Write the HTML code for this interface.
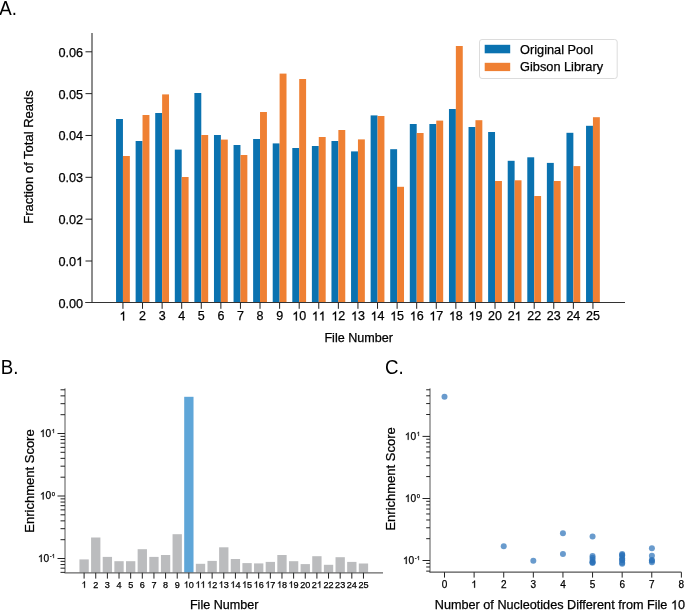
<!DOCTYPE html>
<html><head><meta charset="utf-8"><style>
html,body{margin:0;padding:0;background:#fff;width:685px;height:610px;overflow:hidden}
svg{display:block;will-change:transform;font-family:"Liberation Sans",sans-serif}
text,.o{stroke:#000;stroke-width:0.25px;vector-effect:non-scaling-stroke}
text.p{stroke:none}
</style></head><body>
<svg width="685" height="610" viewBox="0 0 685 610" font-family="Liberation Sans, sans-serif">
<rect width="685" height="610" fill="#fff"/>
<rect x="116.05" y="119" width="6.9" height="183.80" fill="#0a72b0"/>
<rect x="122.95" y="156" width="6.9" height="146.80" fill="#ef8033"/>
<rect x="135.63" y="141" width="6.9" height="161.80" fill="#0a72b0"/>
<rect x="142.53" y="115" width="6.9" height="187.80" fill="#ef8033"/>
<rect x="155.22" y="113" width="6.9" height="189.80" fill="#0a72b0"/>
<rect x="162.12" y="94.4" width="6.9" height="208.40" fill="#ef8033"/>
<rect x="174.80" y="149.6" width="6.9" height="153.20" fill="#0a72b0"/>
<rect x="181.70" y="177" width="6.9" height="125.80" fill="#ef8033"/>
<rect x="194.38" y="93" width="6.9" height="209.80" fill="#0a72b0"/>
<rect x="201.28" y="135" width="6.9" height="167.80" fill="#ef8033"/>
<rect x="213.97" y="135" width="6.9" height="167.80" fill="#0a72b0"/>
<rect x="220.87" y="139.6" width="6.9" height="163.20" fill="#ef8033"/>
<rect x="233.55" y="145" width="6.9" height="157.80" fill="#0a72b0"/>
<rect x="240.45" y="155" width="6.9" height="147.80" fill="#ef8033"/>
<rect x="253.13" y="139" width="6.9" height="163.80" fill="#0a72b0"/>
<rect x="260.03" y="112" width="6.9" height="190.80" fill="#ef8033"/>
<rect x="272.71" y="143.4" width="6.9" height="159.40" fill="#0a72b0"/>
<rect x="279.61" y="73.6" width="6.9" height="229.20" fill="#ef8033"/>
<rect x="292.30" y="148" width="6.9" height="154.80" fill="#0a72b0"/>
<rect x="299.20" y="79" width="6.9" height="223.80" fill="#ef8033"/>
<rect x="311.88" y="146" width="6.9" height="156.80" fill="#0a72b0"/>
<rect x="318.78" y="137" width="6.9" height="165.80" fill="#ef8033"/>
<rect x="331.46" y="141" width="6.9" height="161.80" fill="#0a72b0"/>
<rect x="338.36" y="130" width="6.9" height="172.80" fill="#ef8033"/>
<rect x="351.05" y="151.4" width="6.9" height="151.40" fill="#0a72b0"/>
<rect x="357.95" y="139.4" width="6.9" height="163.40" fill="#ef8033"/>
<rect x="370.63" y="115.4" width="6.9" height="187.40" fill="#0a72b0"/>
<rect x="377.53" y="116" width="6.9" height="186.80" fill="#ef8033"/>
<rect x="390.21" y="149.2" width="6.9" height="153.60" fill="#0a72b0"/>
<rect x="397.11" y="186.8" width="6.9" height="116.00" fill="#ef8033"/>
<rect x="409.80" y="124" width="6.9" height="178.80" fill="#0a72b0"/>
<rect x="416.69" y="133" width="6.9" height="169.80" fill="#ef8033"/>
<rect x="429.38" y="124" width="6.9" height="178.80" fill="#0a72b0"/>
<rect x="436.28" y="120.6" width="6.9" height="182.20" fill="#ef8033"/>
<rect x="448.96" y="109" width="6.9" height="193.80" fill="#0a72b0"/>
<rect x="455.86" y="46" width="6.9" height="256.80" fill="#ef8033"/>
<rect x="468.54" y="127" width="6.9" height="175.80" fill="#0a72b0"/>
<rect x="475.44" y="120.2" width="6.9" height="182.60" fill="#ef8033"/>
<rect x="488.13" y="132" width="6.9" height="170.80" fill="#0a72b0"/>
<rect x="495.03" y="181" width="6.9" height="121.80" fill="#ef8033"/>
<rect x="507.71" y="160.8" width="6.9" height="142.00" fill="#0a72b0"/>
<rect x="514.61" y="180.3" width="6.9" height="122.50" fill="#ef8033"/>
<rect x="527.29" y="157.3" width="6.9" height="145.50" fill="#0a72b0"/>
<rect x="534.19" y="196" width="6.9" height="106.80" fill="#ef8033"/>
<rect x="546.88" y="162.9" width="6.9" height="139.90" fill="#0a72b0"/>
<rect x="553.78" y="181" width="6.9" height="121.80" fill="#ef8033"/>
<rect x="566.46" y="132.8" width="6.9" height="170.00" fill="#0a72b0"/>
<rect x="573.36" y="166.1" width="6.9" height="136.70" fill="#ef8033"/>
<rect x="586.04" y="125.8" width="6.9" height="177.00" fill="#0a72b0"/>
<rect x="592.94" y="117.2" width="6.9" height="185.60" fill="#ef8033"/>
<line x1="92" y1="33" x2="92" y2="302.5" stroke="#1a1a1a" stroke-width="1"/>
<text x="58.49" y="307.84" font-size="12.7">0.00</text>
<line x1="85.5" y1="261.00" x2="92" y2="261.00" stroke="#222" stroke-width="1"/>
<text x="58.49" y="266" font-size="12.7">0.0<tspan visibility="hidden">1</tspan></text><path class="o" d="M0.3726 0L0.2847 0L0.2847 0.560Q0.253 0.530 0.201 0.4995Q0.149 0.469 0.1089 0.454L0.1089 0.539Q0.1816 0.573 0.2363 0.622Q0.291 0.671 0.3135 0.716L0.3726 0.716Z" transform="translate(76.139,266.000) scale(12.7,-12.7)"/>
<line x1="85.5" y1="219.16" x2="92" y2="219.16" stroke="#222" stroke-width="1"/>
<text x="58.49" y="224.16" font-size="12.7">0.02</text>
<line x1="85.5" y1="177.32" x2="92" y2="177.32" stroke="#222" stroke-width="1"/>
<text x="58.49" y="182.32" font-size="12.7">0.03</text>
<line x1="85.5" y1="135.48" x2="92" y2="135.48" stroke="#222" stroke-width="1"/>
<text x="58.49" y="140.48" font-size="12.7">0.04</text>
<line x1="85.5" y1="93.64" x2="92" y2="93.64" stroke="#222" stroke-width="1"/>
<text x="58.49" y="98.64" font-size="12.7">0.05</text>
<line x1="85.5" y1="51.80" x2="92" y2="51.80" stroke="#222" stroke-width="1"/>
<text x="58.49" y="56.8" font-size="12.7">0.06</text>
<line x1="85.2" y1="302.5" x2="625" y2="302.5" stroke="#333" stroke-width="1"/>
<line x1="122.95" y1="302.5" x2="122.95" y2="308.8" stroke="#222" stroke-width="1"/>
<text x="119.48" y="320.4" font-size="12.5"><tspan visibility="hidden">1</tspan></text><path class="o" d="M0.3726 0L0.2847 0L0.2847 0.560Q0.253 0.530 0.201 0.4995Q0.149 0.469 0.1089 0.454L0.1089 0.539Q0.1816 0.573 0.2363 0.622Q0.291 0.671 0.3135 0.716L0.3726 0.716Z" transform="translate(119.475,320.400) scale(12.5,-12.5)"/>
<line x1="142.53" y1="302.5" x2="142.53" y2="308.8" stroke="#222" stroke-width="1"/>
<text x="139.06" y="320.4" font-size="12.5">2</text>
<line x1="162.12" y1="302.5" x2="162.12" y2="308.8" stroke="#222" stroke-width="1"/>
<text x="158.64" y="320.4" font-size="12.5">3</text>
<line x1="181.70" y1="302.5" x2="181.70" y2="308.8" stroke="#222" stroke-width="1"/>
<text x="178.22" y="320.4" font-size="12.5">4</text>
<line x1="201.28" y1="302.5" x2="201.28" y2="308.8" stroke="#222" stroke-width="1"/>
<text x="197.81" y="320.4" font-size="12.5">5</text>
<line x1="220.87" y1="302.5" x2="220.87" y2="308.8" stroke="#222" stroke-width="1"/>
<text x="217.39" y="320.4" font-size="12.5">6</text>
<line x1="240.45" y1="302.5" x2="240.45" y2="308.8" stroke="#222" stroke-width="1"/>
<text x="236.97" y="320.4" font-size="12.5">7</text>
<line x1="260.03" y1="302.5" x2="260.03" y2="308.8" stroke="#222" stroke-width="1"/>
<text x="256.56" y="320.4" font-size="12.5">8</text>
<line x1="279.61" y1="302.5" x2="279.61" y2="308.8" stroke="#222" stroke-width="1"/>
<text x="276.14" y="320.4" font-size="12.5">9</text>
<line x1="299.20" y1="302.5" x2="299.20" y2="308.8" stroke="#222" stroke-width="1"/>
<text x="292.25" y="320.4" font-size="12.5"><tspan visibility="hidden">1</tspan>0</text><path class="o" d="M0.3726 0L0.2847 0L0.2847 0.560Q0.253 0.530 0.201 0.4995Q0.149 0.469 0.1089 0.454L0.1089 0.539Q0.1816 0.573 0.2363 0.622Q0.291 0.671 0.3135 0.716L0.3726 0.716Z" transform="translate(292.247,320.400) scale(12.5,-12.5)"/>
<line x1="318.78" y1="302.5" x2="318.78" y2="308.8" stroke="#222" stroke-width="1"/>
<text x="311.83" y="320.4" font-size="12.5"><tspan visibility="hidden">1</tspan><tspan visibility="hidden">1</tspan></text><path class="o" d="M0.3726 0L0.2847 0L0.2847 0.560Q0.253 0.530 0.201 0.4995Q0.149 0.469 0.1089 0.454L0.1089 0.539Q0.1816 0.573 0.2363 0.622Q0.291 0.671 0.3135 0.716L0.3726 0.716Z" transform="translate(311.830,320.400) scale(12.5,-12.5)"/><path class="o" d="M0.3726 0L0.2847 0L0.2847 0.560Q0.253 0.530 0.201 0.4995Q0.149 0.469 0.1089 0.454L0.1089 0.539Q0.1816 0.573 0.2363 0.622Q0.291 0.671 0.3135 0.716L0.3726 0.716Z" transform="translate(318.780,320.400) scale(12.5,-12.5)"/>
<line x1="338.36" y1="302.5" x2="338.36" y2="308.8" stroke="#222" stroke-width="1"/>
<text x="331.41" y="320.4" font-size="12.5"><tspan visibility="hidden">1</tspan>2</text><path class="o" d="M0.3726 0L0.2847 0L0.2847 0.560Q0.253 0.530 0.201 0.4995Q0.149 0.469 0.1089 0.454L0.1089 0.539Q0.1816 0.573 0.2363 0.622Q0.291 0.671 0.3135 0.716L0.3726 0.716Z" transform="translate(331.413,320.400) scale(12.5,-12.5)"/>
<line x1="357.95" y1="302.5" x2="357.95" y2="308.8" stroke="#222" stroke-width="1"/>
<text x="351" y="320.4" font-size="12.5"><tspan visibility="hidden">1</tspan>3</text><path class="o" d="M0.3726 0L0.2847 0L0.2847 0.560Q0.253 0.530 0.201 0.4995Q0.149 0.469 0.1089 0.454L0.1089 0.539Q0.1816 0.573 0.2363 0.622Q0.291 0.671 0.3135 0.716L0.3726 0.716Z" transform="translate(350.996,320.400) scale(12.5,-12.5)"/>
<line x1="377.53" y1="302.5" x2="377.53" y2="308.8" stroke="#222" stroke-width="1"/>
<text x="370.58" y="320.4" font-size="12.5"><tspan visibility="hidden">1</tspan>4</text><path class="o" d="M0.3726 0L0.2847 0L0.2847 0.560Q0.253 0.530 0.201 0.4995Q0.149 0.469 0.1089 0.454L0.1089 0.539Q0.1816 0.573 0.2363 0.622Q0.291 0.671 0.3135 0.716L0.3726 0.716Z" transform="translate(370.579,320.400) scale(12.5,-12.5)"/>
<line x1="397.11" y1="302.5" x2="397.11" y2="308.8" stroke="#222" stroke-width="1"/>
<text x="390.16" y="320.4" font-size="12.5"><tspan visibility="hidden">1</tspan>5</text><path class="o" d="M0.3726 0L0.2847 0L0.2847 0.560Q0.253 0.530 0.201 0.4995Q0.149 0.469 0.1089 0.454L0.1089 0.539Q0.1816 0.573 0.2363 0.622Q0.291 0.671 0.3135 0.716L0.3726 0.716Z" transform="translate(390.162,320.400) scale(12.5,-12.5)"/>
<line x1="416.69" y1="302.5" x2="416.69" y2="308.8" stroke="#222" stroke-width="1"/>
<text x="409.75" y="320.4" font-size="12.5"><tspan visibility="hidden">1</tspan>6</text><path class="o" d="M0.3726 0L0.2847 0L0.2847 0.560Q0.253 0.530 0.201 0.4995Q0.149 0.469 0.1089 0.454L0.1089 0.539Q0.1816 0.573 0.2363 0.622Q0.291 0.671 0.3135 0.716L0.3726 0.716Z" transform="translate(409.745,320.400) scale(12.5,-12.5)"/>
<line x1="436.28" y1="302.5" x2="436.28" y2="308.8" stroke="#222" stroke-width="1"/>
<text x="429.33" y="320.4" font-size="12.5"><tspan visibility="hidden">1</tspan>7</text><path class="o" d="M0.3726 0L0.2847 0L0.2847 0.560Q0.253 0.530 0.201 0.4995Q0.149 0.469 0.1089 0.454L0.1089 0.539Q0.1816 0.573 0.2363 0.622Q0.291 0.671 0.3135 0.716L0.3726 0.716Z" transform="translate(429.328,320.400) scale(12.5,-12.5)"/>
<line x1="455.86" y1="302.5" x2="455.86" y2="308.8" stroke="#222" stroke-width="1"/>
<text x="448.91" y="320.4" font-size="12.5"><tspan visibility="hidden">1</tspan>8</text><path class="o" d="M0.3726 0L0.2847 0L0.2847 0.560Q0.253 0.530 0.201 0.4995Q0.149 0.469 0.1089 0.454L0.1089 0.539Q0.1816 0.573 0.2363 0.622Q0.291 0.671 0.3135 0.716L0.3726 0.716Z" transform="translate(448.911,320.400) scale(12.5,-12.5)"/>
<line x1="475.44" y1="302.5" x2="475.44" y2="308.8" stroke="#222" stroke-width="1"/>
<text x="468.49" y="320.4" font-size="12.5"><tspan visibility="hidden">1</tspan>9</text><path class="o" d="M0.3726 0L0.2847 0L0.2847 0.560Q0.253 0.530 0.201 0.4995Q0.149 0.469 0.1089 0.454L0.1089 0.539Q0.1816 0.573 0.2363 0.622Q0.291 0.671 0.3135 0.716L0.3726 0.716Z" transform="translate(468.494,320.400) scale(12.5,-12.5)"/>
<line x1="495.03" y1="302.5" x2="495.03" y2="308.8" stroke="#222" stroke-width="1"/>
<text x="488.08" y="320.4" font-size="12.5">20</text>
<line x1="514.61" y1="302.5" x2="514.61" y2="308.8" stroke="#222" stroke-width="1"/>
<text x="507.66" y="320.4" font-size="12.5">2<tspan visibility="hidden">1</tspan></text><path class="o" d="M0.3726 0L0.2847 0L0.2847 0.560Q0.253 0.530 0.201 0.4995Q0.149 0.469 0.1089 0.454L0.1089 0.539Q0.1816 0.573 0.2363 0.622Q0.291 0.671 0.3135 0.716L0.3726 0.716Z" transform="translate(514.610,320.400) scale(12.5,-12.5)"/>
<line x1="534.19" y1="302.5" x2="534.19" y2="308.8" stroke="#222" stroke-width="1"/>
<text x="527.24" y="320.4" font-size="12.5">22</text>
<line x1="553.78" y1="302.5" x2="553.78" y2="308.8" stroke="#222" stroke-width="1"/>
<text x="546.83" y="320.4" font-size="12.5">23</text>
<line x1="573.36" y1="302.5" x2="573.36" y2="308.8" stroke="#222" stroke-width="1"/>
<text x="566.41" y="320.4" font-size="12.5">24</text>
<line x1="592.94" y1="302.5" x2="592.94" y2="308.8" stroke="#222" stroke-width="1"/>
<text x="585.99" y="320.4" font-size="12.5">25</text>
<text x="358.7" y="341.8" font-size="12.6" text-anchor="middle">File Number</text>
<text transform="translate(32.9,156.95) rotate(-90)" font-size="13" text-anchor="middle">Fraction of Total Reads</text>
<rect x="479.5" y="39.5" width="137.7" height="39" rx="2.5" fill="#fff" stroke="#dcdcdc" stroke-width="1"/>
<rect x="484.7" y="44.8" width="25.5" height="8.5" fill="#0a72b0"/>
<rect x="484.7" y="62.8" width="25.5" height="8.3" fill="#ef8033"/>
<text x="520.1" y="53.5" font-size="12.75">Original Pool</text>
<text x="520.1" y="71.2" font-size="12.75">Gibson Library</text>
<text transform="translate(-0.7,14.5) scale(0.9,1)" font-size="20.8" class="p">A.</text>
<text transform="translate(0.85,374.1) scale(0.9,1)" font-size="20.8" class="p">B.</text>
<text transform="translate(384.9,374.2) scale(0.9,1)" font-size="20.8" class="p">C.</text>
<rect x="79.44" y="559.4" width="9.32" height="13.40" fill="#bbbcbe"/>
<rect x="91.08" y="537.5" width="9.32" height="35.30" fill="#bbbcbe"/>
<rect x="102.72" y="556.9" width="9.32" height="15.90" fill="#bbbcbe"/>
<rect x="114.36" y="561.2" width="9.32" height="11.60" fill="#bbbcbe"/>
<rect x="126.00" y="561.2" width="9.32" height="11.60" fill="#bbbcbe"/>
<rect x="137.64" y="549.2" width="9.32" height="23.60" fill="#bbbcbe"/>
<rect x="149.28" y="556.9" width="9.32" height="15.90" fill="#bbbcbe"/>
<rect x="160.92" y="555" width="9.32" height="17.80" fill="#bbbcbe"/>
<rect x="172.56" y="534.2" width="9.32" height="38.60" fill="#bbbcbe"/>
<rect x="184.20" y="396.8" width="9.32" height="176.00" fill="#5fa6d8"/>
<rect x="195.84" y="563.8" width="9.32" height="9.00" fill="#bbbcbe"/>
<rect x="207.48" y="560.9" width="9.32" height="11.90" fill="#bbbcbe"/>
<rect x="219.12" y="547.3" width="9.32" height="25.50" fill="#bbbcbe"/>
<rect x="230.76" y="559" width="9.32" height="13.80" fill="#bbbcbe"/>
<rect x="242.40" y="563.1" width="9.32" height="9.70" fill="#bbbcbe"/>
<rect x="254.04" y="563.4" width="9.32" height="9.40" fill="#bbbcbe"/>
<rect x="265.68" y="561.9" width="9.32" height="10.90" fill="#bbbcbe"/>
<rect x="277.32" y="555" width="9.32" height="17.80" fill="#bbbcbe"/>
<rect x="288.96" y="561.2" width="9.32" height="11.60" fill="#bbbcbe"/>
<rect x="300.60" y="564.1" width="9.32" height="8.70" fill="#bbbcbe"/>
<rect x="312.24" y="556.2" width="9.32" height="16.60" fill="#bbbcbe"/>
<rect x="323.88" y="564.8" width="9.32" height="8.00" fill="#bbbcbe"/>
<rect x="335.52" y="557.2" width="9.32" height="15.60" fill="#bbbcbe"/>
<rect x="347.16" y="561.9" width="9.32" height="10.90" fill="#bbbcbe"/>
<rect x="358.80" y="563.5" width="9.32" height="9.30" fill="#bbbcbe"/>
<line x1="65" y1="388.4" x2="65" y2="573" stroke="#555" stroke-width="1"/>
<line x1="64.5" y1="572.8" x2="383" y2="572.8" stroke="#666" stroke-width="1.2"/>
<line x1="60.50" y1="572.37" x2="65" y2="572.37" stroke="#222" stroke-width="1"/>
<line x1="60.50" y1="568.18" x2="65" y2="568.18" stroke="#222" stroke-width="1"/>
<line x1="60.50" y1="564.56" x2="65" y2="564.56" stroke="#222" stroke-width="1"/>
<line x1="60.50" y1="561.36" x2="65" y2="561.36" stroke="#222" stroke-width="1"/>
<line x1="57.50" y1="558.50" x2="65" y2="558.50" stroke="#222" stroke-width="1"/>
<line x1="60.50" y1="539.69" x2="65" y2="539.69" stroke="#222" stroke-width="1"/>
<line x1="60.50" y1="528.68" x2="65" y2="528.68" stroke="#222" stroke-width="1"/>
<line x1="60.50" y1="520.87" x2="65" y2="520.87" stroke="#222" stroke-width="1"/>
<line x1="60.50" y1="514.81" x2="65" y2="514.81" stroke="#222" stroke-width="1"/>
<line x1="60.50" y1="509.87" x2="65" y2="509.87" stroke="#222" stroke-width="1"/>
<line x1="60.50" y1="505.68" x2="65" y2="505.68" stroke="#222" stroke-width="1"/>
<line x1="60.50" y1="502.06" x2="65" y2="502.06" stroke="#222" stroke-width="1"/>
<line x1="60.50" y1="498.86" x2="65" y2="498.86" stroke="#222" stroke-width="1"/>
<line x1="57.50" y1="496.00" x2="65" y2="496.00" stroke="#222" stroke-width="1"/>
<line x1="60.50" y1="477.19" x2="65" y2="477.19" stroke="#222" stroke-width="1"/>
<line x1="60.50" y1="466.18" x2="65" y2="466.18" stroke="#222" stroke-width="1"/>
<line x1="60.50" y1="458.37" x2="65" y2="458.37" stroke="#222" stroke-width="1"/>
<line x1="60.50" y1="452.31" x2="65" y2="452.31" stroke="#222" stroke-width="1"/>
<line x1="60.50" y1="447.37" x2="65" y2="447.37" stroke="#222" stroke-width="1"/>
<line x1="60.50" y1="443.18" x2="65" y2="443.18" stroke="#222" stroke-width="1"/>
<line x1="60.50" y1="439.56" x2="65" y2="439.56" stroke="#222" stroke-width="1"/>
<line x1="60.50" y1="436.36" x2="65" y2="436.36" stroke="#222" stroke-width="1"/>
<line x1="57.50" y1="433.50" x2="65" y2="433.50" stroke="#222" stroke-width="1"/>
<line x1="60.50" y1="414.69" x2="65" y2="414.69" stroke="#222" stroke-width="1"/>
<line x1="60.50" y1="403.68" x2="65" y2="403.68" stroke="#222" stroke-width="1"/>
<line x1="60.50" y1="395.87" x2="65" y2="395.87" stroke="#222" stroke-width="1"/>
<line x1="60.50" y1="389.81" x2="65" y2="389.81" stroke="#222" stroke-width="1"/>
<text x="39.83" y="436.9" font-size="10.2"><tspan visibility="hidden">1</tspan>0</text><path class="o" d="M0.3726 0L0.2847 0L0.2847 0.560Q0.253 0.530 0.201 0.4995Q0.149 0.469 0.1089 0.454L0.1089 0.539Q0.1816 0.573 0.2363 0.622Q0.291 0.671 0.3135 0.716L0.3726 0.716Z" transform="translate(39.833,436.900) scale(10.2,-10.2)"/><text x="51.78" y="433.1" font-size="5.8"><tspan visibility="hidden">1</tspan></text><path class="o" d="M0.3726 0L0.2847 0L0.2847 0.560Q0.253 0.530 0.201 0.4995Q0.149 0.469 0.1089 0.454L0.1089 0.539Q0.1816 0.573 0.2363 0.622Q0.291 0.671 0.3135 0.716L0.3726 0.716Z" transform="translate(51.775,433.100) scale(5.8,-5.8)"/>
<text x="39.83" y="499.4" font-size="10.2"><tspan visibility="hidden">1</tspan>0</text><path class="o" d="M0.3726 0L0.2847 0L0.2847 0.560Q0.253 0.530 0.201 0.4995Q0.149 0.469 0.1089 0.454L0.1089 0.539Q0.1816 0.573 0.2363 0.622Q0.291 0.671 0.3135 0.716L0.3726 0.716Z" transform="translate(39.833,499.400) scale(10.2,-10.2)"/><text x="51.78" y="495.6" font-size="5.8">0</text>
<text x="37.9" y="561.9" font-size="10.2"><tspan visibility="hidden">1</tspan>0</text><path class="o" d="M0.3726 0L0.2847 0L0.2847 0.560Q0.253 0.530 0.201 0.4995Q0.149 0.469 0.1089 0.454L0.1089 0.539Q0.1816 0.573 0.2363 0.622Q0.291 0.671 0.3135 0.716L0.3726 0.716Z" transform="translate(37.901,561.900) scale(10.2,-10.2)"/><text x="49.84" y="558.1" font-size="5.8">-<tspan visibility="hidden">1</tspan></text><path class="o" d="M0.3726 0L0.2847 0L0.2847 0.560Q0.253 0.530 0.201 0.4995Q0.149 0.469 0.1089 0.454L0.1089 0.539Q0.1816 0.573 0.2363 0.622Q0.291 0.671 0.3135 0.716L0.3726 0.716Z" transform="translate(51.775,558.100) scale(5.8,-5.8)"/>
<line x1="84.10" y1="572.8" x2="84.10" y2="578.6" stroke="#222" stroke-width="1"/>
<text x="81.57" y="587.8" font-size="9.1"><tspan visibility="hidden">1</tspan></text><path class="o" d="M0.3726 0L0.2847 0L0.2847 0.560Q0.253 0.530 0.201 0.4995Q0.149 0.469 0.1089 0.454L0.1089 0.539Q0.1816 0.573 0.2363 0.622Q0.291 0.671 0.3135 0.716L0.3726 0.716Z" transform="translate(81.570,587.800) scale(9.1,-9.1)"/>
<line x1="95.74" y1="572.8" x2="95.74" y2="578.6" stroke="#222" stroke-width="1"/>
<text x="93.21" y="587.8" font-size="9.1">2</text>
<line x1="107.38" y1="572.8" x2="107.38" y2="578.6" stroke="#222" stroke-width="1"/>
<text x="104.85" y="587.8" font-size="9.1">3</text>
<line x1="119.02" y1="572.8" x2="119.02" y2="578.6" stroke="#222" stroke-width="1"/>
<text x="116.49" y="587.8" font-size="9.1">4</text>
<line x1="130.66" y1="572.8" x2="130.66" y2="578.6" stroke="#222" stroke-width="1"/>
<text x="128.13" y="587.8" font-size="9.1">5</text>
<line x1="142.30" y1="572.8" x2="142.30" y2="578.6" stroke="#222" stroke-width="1"/>
<text x="139.77" y="587.8" font-size="9.1">6</text>
<line x1="153.94" y1="572.8" x2="153.94" y2="578.6" stroke="#222" stroke-width="1"/>
<text x="151.41" y="587.8" font-size="9.1">7</text>
<line x1="165.58" y1="572.8" x2="165.58" y2="578.6" stroke="#222" stroke-width="1"/>
<text x="163.05" y="587.8" font-size="9.1">8</text>
<line x1="177.22" y1="572.8" x2="177.22" y2="578.6" stroke="#222" stroke-width="1"/>
<text x="174.69" y="587.8" font-size="9.1">9</text>
<line x1="188.86" y1="572.8" x2="188.86" y2="578.6" stroke="#222" stroke-width="1"/>
<text x="183.8" y="587.8" font-size="9.1"><tspan visibility="hidden">1</tspan>0</text><path class="o" d="M0.3726 0L0.2847 0L0.2847 0.560Q0.253 0.530 0.201 0.4995Q0.149 0.469 0.1089 0.454L0.1089 0.539Q0.1816 0.573 0.2363 0.622Q0.291 0.671 0.3135 0.716L0.3726 0.716Z" transform="translate(183.800,587.800) scale(9.1,-9.1)"/>
<line x1="200.50" y1="572.8" x2="200.50" y2="578.6" stroke="#222" stroke-width="1"/>
<text x="195.44" y="587.8" font-size="9.1"><tspan visibility="hidden">1</tspan><tspan visibility="hidden">1</tspan></text><path class="o" d="M0.3726 0L0.2847 0L0.2847 0.560Q0.253 0.530 0.201 0.4995Q0.149 0.469 0.1089 0.454L0.1089 0.539Q0.1816 0.573 0.2363 0.622Q0.291 0.671 0.3135 0.716L0.3726 0.716Z" transform="translate(195.440,587.800) scale(9.1,-9.1)"/><path class="o" d="M0.3726 0L0.2847 0L0.2847 0.560Q0.253 0.530 0.201 0.4995Q0.149 0.469 0.1089 0.454L0.1089 0.539Q0.1816 0.573 0.2363 0.622Q0.291 0.671 0.3135 0.716L0.3726 0.716Z" transform="translate(200.500,587.800) scale(9.1,-9.1)"/>
<line x1="212.14" y1="572.8" x2="212.14" y2="578.6" stroke="#222" stroke-width="1"/>
<text x="207.08" y="587.8" font-size="9.1"><tspan visibility="hidden">1</tspan>2</text><path class="o" d="M0.3726 0L0.2847 0L0.2847 0.560Q0.253 0.530 0.201 0.4995Q0.149 0.469 0.1089 0.454L0.1089 0.539Q0.1816 0.573 0.2363 0.622Q0.291 0.671 0.3135 0.716L0.3726 0.716Z" transform="translate(207.080,587.800) scale(9.1,-9.1)"/>
<line x1="223.78" y1="572.8" x2="223.78" y2="578.6" stroke="#222" stroke-width="1"/>
<text x="218.72" y="587.8" font-size="9.1"><tspan visibility="hidden">1</tspan>3</text><path class="o" d="M0.3726 0L0.2847 0L0.2847 0.560Q0.253 0.530 0.201 0.4995Q0.149 0.469 0.1089 0.454L0.1089 0.539Q0.1816 0.573 0.2363 0.622Q0.291 0.671 0.3135 0.716L0.3726 0.716Z" transform="translate(218.720,587.800) scale(9.1,-9.1)"/>
<line x1="235.42" y1="572.8" x2="235.42" y2="578.6" stroke="#222" stroke-width="1"/>
<text x="230.36" y="587.8" font-size="9.1"><tspan visibility="hidden">1</tspan>4</text><path class="o" d="M0.3726 0L0.2847 0L0.2847 0.560Q0.253 0.530 0.201 0.4995Q0.149 0.469 0.1089 0.454L0.1089 0.539Q0.1816 0.573 0.2363 0.622Q0.291 0.671 0.3135 0.716L0.3726 0.716Z" transform="translate(230.360,587.800) scale(9.1,-9.1)"/>
<line x1="247.06" y1="572.8" x2="247.06" y2="578.6" stroke="#222" stroke-width="1"/>
<text x="242" y="587.8" font-size="9.1"><tspan visibility="hidden">1</tspan>5</text><path class="o" d="M0.3726 0L0.2847 0L0.2847 0.560Q0.253 0.530 0.201 0.4995Q0.149 0.469 0.1089 0.454L0.1089 0.539Q0.1816 0.573 0.2363 0.622Q0.291 0.671 0.3135 0.716L0.3726 0.716Z" transform="translate(242.000,587.800) scale(9.1,-9.1)"/>
<line x1="258.70" y1="572.8" x2="258.70" y2="578.6" stroke="#222" stroke-width="1"/>
<text x="253.64" y="587.8" font-size="9.1"><tspan visibility="hidden">1</tspan>6</text><path class="o" d="M0.3726 0L0.2847 0L0.2847 0.560Q0.253 0.530 0.201 0.4995Q0.149 0.469 0.1089 0.454L0.1089 0.539Q0.1816 0.573 0.2363 0.622Q0.291 0.671 0.3135 0.716L0.3726 0.716Z" transform="translate(253.640,587.800) scale(9.1,-9.1)"/>
<line x1="270.34" y1="572.8" x2="270.34" y2="578.6" stroke="#222" stroke-width="1"/>
<text x="265.28" y="587.8" font-size="9.1"><tspan visibility="hidden">1</tspan>7</text><path class="o" d="M0.3726 0L0.2847 0L0.2847 0.560Q0.253 0.530 0.201 0.4995Q0.149 0.469 0.1089 0.454L0.1089 0.539Q0.1816 0.573 0.2363 0.622Q0.291 0.671 0.3135 0.716L0.3726 0.716Z" transform="translate(265.280,587.800) scale(9.1,-9.1)"/>
<line x1="281.98" y1="572.8" x2="281.98" y2="578.6" stroke="#222" stroke-width="1"/>
<text x="276.92" y="587.8" font-size="9.1"><tspan visibility="hidden">1</tspan>8</text><path class="o" d="M0.3726 0L0.2847 0L0.2847 0.560Q0.253 0.530 0.201 0.4995Q0.149 0.469 0.1089 0.454L0.1089 0.539Q0.1816 0.573 0.2363 0.622Q0.291 0.671 0.3135 0.716L0.3726 0.716Z" transform="translate(276.920,587.800) scale(9.1,-9.1)"/>
<line x1="293.62" y1="572.8" x2="293.62" y2="578.6" stroke="#222" stroke-width="1"/>
<text x="288.56" y="587.8" font-size="9.1"><tspan visibility="hidden">1</tspan>9</text><path class="o" d="M0.3726 0L0.2847 0L0.2847 0.560Q0.253 0.530 0.201 0.4995Q0.149 0.469 0.1089 0.454L0.1089 0.539Q0.1816 0.573 0.2363 0.622Q0.291 0.671 0.3135 0.716L0.3726 0.716Z" transform="translate(288.560,587.800) scale(9.1,-9.1)"/>
<line x1="305.26" y1="572.8" x2="305.26" y2="578.6" stroke="#222" stroke-width="1"/>
<text x="300.2" y="587.8" font-size="9.1">20</text>
<line x1="316.90" y1="572.8" x2="316.90" y2="578.6" stroke="#222" stroke-width="1"/>
<text x="311.84" y="587.8" font-size="9.1">2<tspan visibility="hidden">1</tspan></text><path class="o" d="M0.3726 0L0.2847 0L0.2847 0.560Q0.253 0.530 0.201 0.4995Q0.149 0.469 0.1089 0.454L0.1089 0.539Q0.1816 0.573 0.2363 0.622Q0.291 0.671 0.3135 0.716L0.3726 0.716Z" transform="translate(316.900,587.800) scale(9.1,-9.1)"/>
<line x1="328.54" y1="572.8" x2="328.54" y2="578.6" stroke="#222" stroke-width="1"/>
<text x="323.48" y="587.8" font-size="9.1">22</text>
<line x1="340.18" y1="572.8" x2="340.18" y2="578.6" stroke="#222" stroke-width="1"/>
<text x="335.12" y="587.8" font-size="9.1">23</text>
<line x1="351.82" y1="572.8" x2="351.82" y2="578.6" stroke="#222" stroke-width="1"/>
<text x="346.76" y="587.8" font-size="9.1">24</text>
<line x1="363.46" y1="572.8" x2="363.46" y2="578.6" stroke="#222" stroke-width="1"/>
<text x="358.4" y="587.8" font-size="9.1">25</text>
<text x="224.2" y="609.4" font-size="12.6" text-anchor="middle">File Number</text>
<text transform="translate(33.7,481.0) rotate(-90)" font-size="13" text-anchor="middle">Enrichment Score</text>
<line x1="430" y1="388.4" x2="430" y2="572.5" stroke="#555" stroke-width="1"/>
<line x1="429.5" y1="572.2" x2="681.4" y2="572.2" stroke="#555" stroke-width="1.2"/>
<line x1="426.2" y1="571.14" x2="430" y2="571.14" stroke="#222" stroke-width="1"/>
<line x1="426.2" y1="566.99" x2="430" y2="566.99" stroke="#222" stroke-width="1"/>
<line x1="426.2" y1="563.39" x2="430" y2="563.39" stroke="#222" stroke-width="1"/>
<line x1="426.2" y1="538.68" x2="430" y2="538.68" stroke="#222" stroke-width="1"/>
<line x1="426.2" y1="527.75" x2="430" y2="527.75" stroke="#222" stroke-width="1"/>
<line x1="426.2" y1="519.99" x2="430" y2="519.99" stroke="#222" stroke-width="1"/>
<line x1="426.2" y1="513.97" x2="430" y2="513.97" stroke="#222" stroke-width="1"/>
<line x1="426.2" y1="509.05" x2="430" y2="509.05" stroke="#222" stroke-width="1"/>
<line x1="426.2" y1="504.90" x2="430" y2="504.90" stroke="#222" stroke-width="1"/>
<line x1="426.2" y1="501.30" x2="430" y2="501.30" stroke="#222" stroke-width="1"/>
<line x1="426.2" y1="476.59" x2="430" y2="476.59" stroke="#222" stroke-width="1"/>
<line x1="426.2" y1="465.66" x2="430" y2="465.66" stroke="#222" stroke-width="1"/>
<line x1="426.2" y1="457.90" x2="430" y2="457.90" stroke="#222" stroke-width="1"/>
<line x1="426.2" y1="451.88" x2="430" y2="451.88" stroke="#222" stroke-width="1"/>
<line x1="426.2" y1="446.96" x2="430" y2="446.96" stroke="#222" stroke-width="1"/>
<line x1="426.2" y1="442.81" x2="430" y2="442.81" stroke="#222" stroke-width="1"/>
<line x1="426.2" y1="439.21" x2="430" y2="439.21" stroke="#222" stroke-width="1"/>
<line x1="426.2" y1="414.50" x2="430" y2="414.50" stroke="#222" stroke-width="1"/>
<line x1="426.2" y1="403.57" x2="430" y2="403.57" stroke="#222" stroke-width="1"/>
<line x1="426.2" y1="395.81" x2="430" y2="395.81" stroke="#222" stroke-width="1"/>
<line x1="426.2" y1="389.79" x2="430" y2="389.79" stroke="#222" stroke-width="1"/>
<line x1="422.5" y1="436.40" x2="430" y2="436.40" stroke="#222" stroke-width="1"/>
<text x="404.83" y="439.8" font-size="10.2"><tspan visibility="hidden">1</tspan>0</text><path class="o" d="M0.3726 0L0.2847 0L0.2847 0.560Q0.253 0.530 0.201 0.4995Q0.149 0.469 0.1089 0.454L0.1089 0.539Q0.1816 0.573 0.2363 0.622Q0.291 0.671 0.3135 0.716L0.3726 0.716Z" transform="translate(404.833,439.800) scale(10.2,-10.2)"/><text x="416.78" y="436" font-size="5.8"><tspan visibility="hidden">1</tspan></text><path class="o" d="M0.3726 0L0.2847 0L0.2847 0.560Q0.253 0.530 0.201 0.4995Q0.149 0.469 0.1089 0.454L0.1089 0.539Q0.1816 0.573 0.2363 0.622Q0.291 0.671 0.3135 0.716L0.3726 0.716Z" transform="translate(416.775,436.000) scale(5.8,-5.8)"/>
<line x1="422.5" y1="498.50" x2="430" y2="498.50" stroke="#222" stroke-width="1"/>
<text x="404.83" y="501.9" font-size="10.2"><tspan visibility="hidden">1</tspan>0</text><path class="o" d="M0.3726 0L0.2847 0L0.2847 0.560Q0.253 0.530 0.201 0.4995Q0.149 0.469 0.1089 0.454L0.1089 0.539Q0.1816 0.573 0.2363 0.622Q0.291 0.671 0.3135 0.716L0.3726 0.716Z" transform="translate(404.833,501.900) scale(10.2,-10.2)"/><text x="416.78" y="498.1" font-size="5.8">0</text>
<line x1="422.5" y1="560.50" x2="430" y2="560.50" stroke="#222" stroke-width="1"/>
<text x="402.9" y="563.9" font-size="10.2"><tspan visibility="hidden">1</tspan>0</text><path class="o" d="M0.3726 0L0.2847 0L0.2847 0.560Q0.253 0.530 0.201 0.4995Q0.149 0.469 0.1089 0.454L0.1089 0.539Q0.1816 0.573 0.2363 0.622Q0.291 0.671 0.3135 0.716L0.3726 0.716Z" transform="translate(402.901,563.900) scale(10.2,-10.2)"/><text x="414.84" y="560.1" font-size="5.8">-<tspan visibility="hidden">1</tspan></text><path class="o" d="M0.3726 0L0.2847 0L0.2847 0.560Q0.253 0.530 0.201 0.4995Q0.149 0.469 0.1089 0.454L0.1089 0.539Q0.1816 0.573 0.2363 0.622Q0.291 0.671 0.3135 0.716L0.3726 0.716Z" transform="translate(416.775,560.100) scale(5.8,-5.8)"/>
<line x1="444.50" y1="572.2" x2="444.50" y2="577.6" stroke="#222" stroke-width="1"/>
<text x="441.72" y="587.7" font-size="10">0</text>
<line x1="474.11" y1="572.2" x2="474.11" y2="577.6" stroke="#222" stroke-width="1"/>
<text x="471.33" y="587.7" font-size="10"><tspan visibility="hidden">1</tspan></text><path class="o" d="M0.3726 0L0.2847 0L0.2847 0.560Q0.253 0.530 0.201 0.4995Q0.149 0.469 0.1089 0.454L0.1089 0.539Q0.1816 0.573 0.2363 0.622Q0.291 0.671 0.3135 0.716L0.3726 0.716Z" transform="translate(471.330,587.700) scale(10,-10)"/>
<line x1="503.72" y1="572.2" x2="503.72" y2="577.6" stroke="#222" stroke-width="1"/>
<text x="500.94" y="587.7" font-size="10">2</text>
<line x1="533.33" y1="572.2" x2="533.33" y2="577.6" stroke="#222" stroke-width="1"/>
<text x="530.55" y="587.7" font-size="10">3</text>
<line x1="562.94" y1="572.2" x2="562.94" y2="577.6" stroke="#222" stroke-width="1"/>
<text x="560.16" y="587.7" font-size="10">4</text>
<line x1="592.55" y1="572.2" x2="592.55" y2="577.6" stroke="#222" stroke-width="1"/>
<text x="589.77" y="587.7" font-size="10">5</text>
<line x1="622.16" y1="572.2" x2="622.16" y2="577.6" stroke="#222" stroke-width="1"/>
<text x="619.38" y="587.7" font-size="10">6</text>
<line x1="651.77" y1="572.2" x2="651.77" y2="577.6" stroke="#222" stroke-width="1"/>
<text x="648.99" y="587.7" font-size="10">7</text>
<line x1="681.38" y1="572.2" x2="681.38" y2="577.6" stroke="#222" stroke-width="1"/>
<text x="678.6" y="587.7" font-size="10">8</text>
<text x="434.8" y="609.4" font-size="12.66">Number of Nucleotides Different from File </text>
<text x="670.98" y="609.4" font-size="12.66"><tspan visibility="hidden">1</tspan>0</text><path class="o" d="M0.3726 0L0.2847 0L0.2847 0.560Q0.253 0.530 0.201 0.4995Q0.149 0.469 0.1089 0.454L0.1089 0.539Q0.1816 0.573 0.2363 0.622Q0.291 0.671 0.3135 0.716L0.3726 0.716Z" transform="translate(670.976,609.400) scale(12.66,-12.66)"/>
<text transform="translate(395.0,478.9) rotate(-90)" font-size="13" text-anchor="middle">Enrichment Score</text>
<circle cx="444.50" cy="396.73" r="3" fill="#2a70b8" fill-opacity="0.7"/>
<circle cx="503.72" cy="546.24" r="3" fill="#2a70b8" fill-opacity="0.7"/>
<circle cx="533.33" cy="560.75" r="3" fill="#2a70b8" fill-opacity="0.7"/>
<circle cx="562.94" cy="533.23" r="3" fill="#2a70b8" fill-opacity="0.7"/>
<circle cx="562.94" cy="553.89" r="3" fill="#2a70b8" fill-opacity="0.7"/>
<circle cx="592.55" cy="536.51" r="3" fill="#2a70b8" fill-opacity="0.7"/>
<circle cx="592.55" cy="556.08" r="3" fill="#2a70b8" fill-opacity="0.7"/>
<circle cx="592.55" cy="557.87" r="3" fill="#2a70b8" fill-opacity="0.7"/>
<circle cx="592.55" cy="559.75" r="3" fill="#2a70b8" fill-opacity="0.7"/>
<circle cx="592.55" cy="561.94" r="3" fill="#2a70b8" fill-opacity="0.7"/>
<circle cx="592.55" cy="562.34" r="3" fill="#2a70b8" fill-opacity="0.7"/>
<circle cx="592.55" cy="562.93" r="3" fill="#2a70b8" fill-opacity="0.7"/>
<circle cx="622.16" cy="553.89" r="3" fill="#2a70b8" fill-opacity="0.7"/>
<circle cx="622.16" cy="555.09" r="3" fill="#2a70b8" fill-opacity="0.7"/>
<circle cx="622.16" cy="555.78" r="3" fill="#2a70b8" fill-opacity="0.7"/>
<circle cx="622.16" cy="558.26" r="3" fill="#2a70b8" fill-opacity="0.7"/>
<circle cx="622.16" cy="560.05" r="3" fill="#2a70b8" fill-opacity="0.7"/>
<circle cx="622.16" cy="560.05" r="3" fill="#2a70b8" fill-opacity="0.7"/>
<circle cx="622.16" cy="562.64" r="3" fill="#2a70b8" fill-opacity="0.7"/>
<circle cx="622.16" cy="563.63" r="3" fill="#2a70b8" fill-opacity="0.7"/>
<circle cx="651.90" cy="548.13" r="3" fill="#2a70b8" fill-opacity="0.7"/>
<circle cx="651.90" cy="555.78" r="3" fill="#2a70b8" fill-opacity="0.7"/>
<circle cx="651.90" cy="560.05" r="3" fill="#2a70b8" fill-opacity="0.7"/>
<circle cx="651.90" cy="560.75" r="3" fill="#2a70b8" fill-opacity="0.7"/>
<circle cx="651.90" cy="562.24" r="3" fill="#2a70b8" fill-opacity="0.7"/>
</svg>
</body></html>
